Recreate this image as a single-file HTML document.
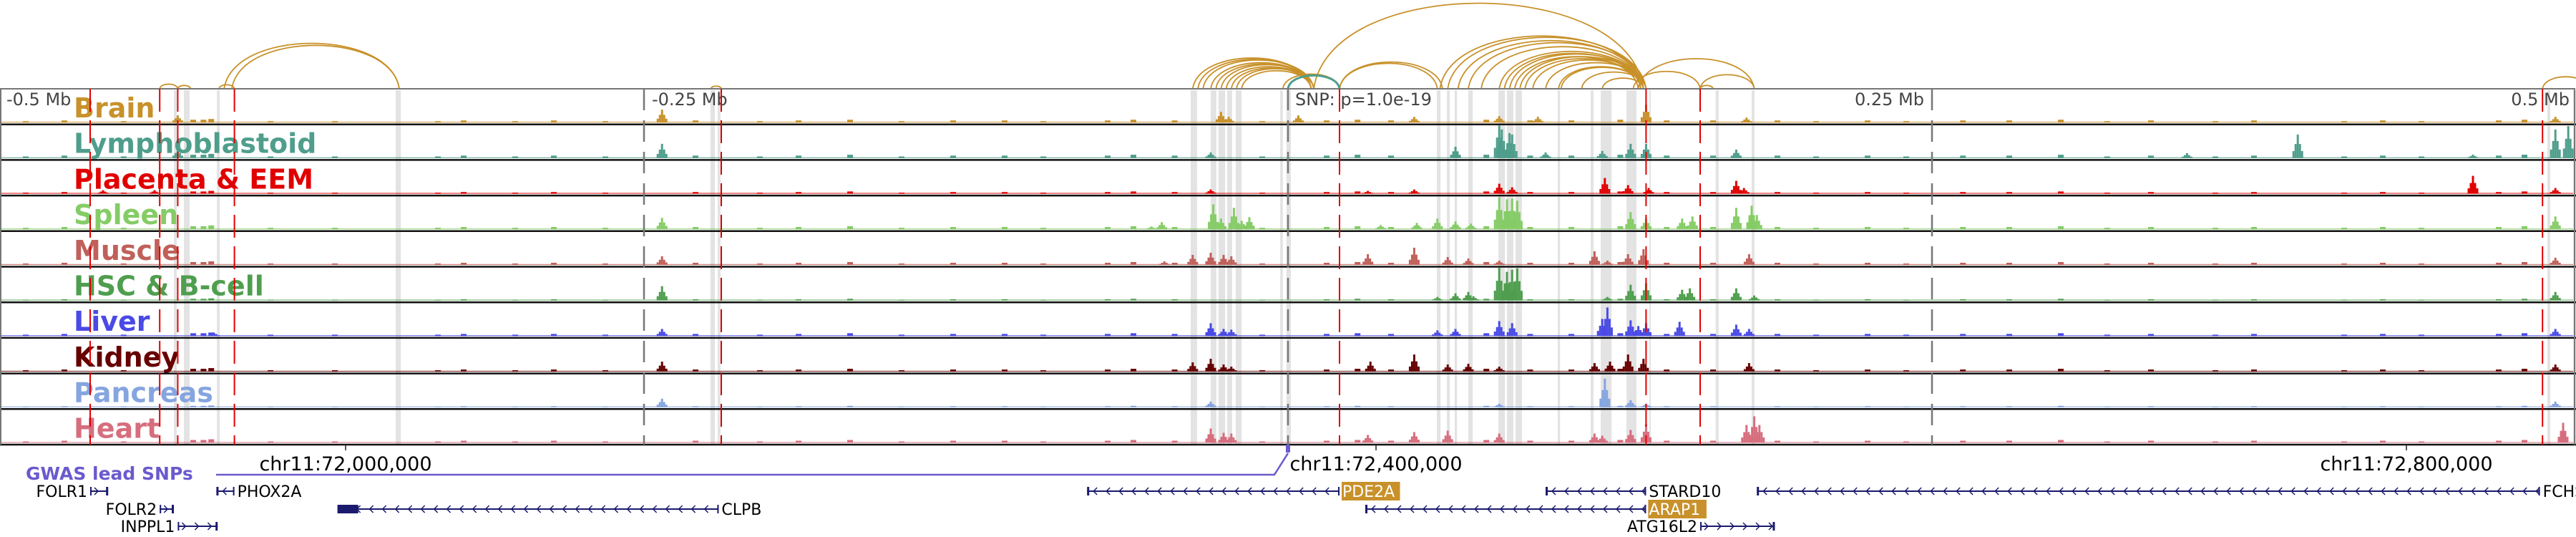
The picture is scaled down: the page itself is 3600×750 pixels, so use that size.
<!DOCTYPE html>
<html><head><meta charset="utf-8">
<style>
html,body{margin:0;padding:0;background:#fff;}
svg{display:block;font-family:"DejaVu Sans","Liberation Sans",sans-serif;}
</style></head>
<body>
<svg id="chart" width="3600" height="750" viewBox="0 0 3600 750" xmlns="http://www.w3.org/2000/svg"></svg>
<script>
// ---- data (positions in kb relative to lead SNP) ----
const trackNames = ["Brain","Lymphoblastoid","Placenta & EEM","Spleen","Muscle","HSC & B-cell","Liver","Kidney","Pancreas","Heart"];
const trackColors = ["#c8912a","#4f9e8c","#e00000","#85cc66","#c0605a","#4f9e4f","#4a4ae6","#660000","#85a5e0","#d66e7e"];
const trackLowScale = [1,1.2,0.8,1.1,1,0.6,1,1,0.5,1];
const peaksBrain = [[-431,10],[-243,18],[-26,15],[-23,8],[4,10],[49,8],[82,9],[97,8],[139,25],[178,7],[492,8]];
const peaksLymph = [[-431,12],[-243,20],[-30,8],[65,16],[82,48],[83,40],[86,35],[87,33],[100,8],[122,10],[133,20],[139,20],[174,12],[349,7],[392,33],[460,5],[492,40],[497,45]];
const peaksPlacenta = [[-460,5],[-440,5],[-30,6],[31,4],[49,6],[82,14],[87,9],[123,22],[132,12],[140,8],[174,18],[177,8],[460,25],[492,8]];
const peaksSpleen = [[-243,16],[-53,4],[-49,10],[-29,35],[-26,15],[-21,30],[-18,12],[-15,17],[36,6],[50,9],[58,15],[65,11],[71,8],[82,45],[85,42],[87,43],[89,40],[133,24],[139,15],[153,15],[157,18],[174,30],[180,33],[182,20],[492,18]];
const peaksMuscle = [[-243,12],[-48,5],[-37,14],[-30,17],[-25,14],[-22,12],[31,15],[49,24],[62,11],[70,9],[82,6],[119,19],[124,6],[132,15],[138,22],[179,15],[492,10]];
const peaksHSC = [[-243,20],[58,5],[65,10],[70,12],[72,6],[82,46],[85,40],[87,43],[89,45],[124,5],[133,22],[139,24],[153,15],[156,17],[174,17],[181,7],[492,12]];
const peaksLiver = [[-417,5],[-243,10],[-30,18],[-25,10],[-22,9],[58,8],[65,10],[82,21],[87,18],[124,40],[122,24],[133,22],[136,14],[139,18],[152,20],[174,16],[179,10],[492,10]];
const peaksKidney = [[-243,14],[-37,13],[-30,18],[-25,10],[-22,7],[32,14],[49,24],[62,10],[70,11],[82,7],[119,12],[125,14],[132,24],[138,18],[179,12],[492,10]];
const peaksPancreas = [[-243,12],[-30,8],[82,5],[123,40],[133,10],[139,5],[492,8]];
const peaksHeart = [[-30,20],[-25,14],[-22,13],[31,11],[49,15],[62,17],[82,13],[119,13],[122,10],[133,18],[139,26],[181,37],[178,25],[183,25],[495,28]];
const trackPeaks = [peaksBrain,peaksLymph,peaksPlacenta,peaksSpleen,peaksMuscle,peaksHSC,peaksLiver,peaksKidney,peaksPancreas,peaksHeart];
// shared low-level background activity [kb, height]
const lowPeaks = [[-490,2],[-475,3],[-452,2],[-425,4],[-421,4],[-418,5],[-395,2],[-370,2],[-330,2],[-320,3],[-300,2],[-285,3],[-265,2],[-230,3],[-205,2],[-190,3],[-170,4],[-150,2],[-130,3],[-110,3],[-95,2],[-70,3],[-60,4],[-44,3],[-10,2],[15,3],[27,4],[40,3],[77,4],[94,3],[110,3],[129,4],[147,3],[165,3],[190,3],[205,2],[225,3],[240,2],[262,3],[280,3],[300,4],[318,2],[335,3],[360,2],[375,3],[410,2],[425,3],[440,2],[470,3],[480,4]];
const grayBands = [[-432.5,-431.4],[-428.6,-426.4],[-415.8,-414.7],[-346.4,-344.4],[-224.2,-222.5],[-221.4,-220.3],[-37.8,-35.3],[-30,-27.8],[-27,-24.4],[-23.6,-21.7],[-20.3,-18],[-3,-2],[-0.6,1.1],[57.8,59.2],[61.7,62.8],[64.7,65.6],[70,71.7],[81.7,84.2],[85,87.5],[88.3,90.8],[104.7,105.6],[117.5,118.6],[121.4,125.6],[131.4,135.3],[140.3,140.8],[166,167.2],[180,181.1],[488.9,490],[498.9,500]];
const redLines = [-465,-438,-431,-409,-220,20,139,160,487];
const posLines = [-250,0,250];
const arcsGold = [[-438,-431],[-431,-426],[-415,-409],[-410,-345],[-413,-345],[-224,-220],
 [-37,9],[-35,9],[-33,10],[-30,9],[-28,9],[-26,10],[-24,9],[-22,9],[-20,10],[-18,9],[-2,20],
 [20,58],[20,60],[10,138],[59,138],[62,139],[66,138],[70,139],[75,138],
 [82,138],[84,137],[86,138],[88,136],[90,138],[92,137],[95,138],[100,139],[105,138],[106,138],[114,139],[122,138],
 [134,160],[136,181],[160,181],[160,165],[487,505]];
const arcsTeal = [[0,20]];
const axisTicksBp = [72000000,72400000,72800000];
const axisTickLabels = ["chr11:72,000,000","chr11:72,400,000","chr11:72,800,000"];
const posLabels = ["-0.5 Mb","-0.25 Mb","SNP: p=1.0e-19","0.25 Mb","0.5 Mb"];
// genes: name, startKb, endKb, row, strand, highlighted
const genes = [["FOLR1",-465,-458,0,"+",false],["FOLR2",-438,-432.5,1,"+",false],["INPPL1",-431,-415.5,2,"+",false],
 ["PHOX2A",-416,-409,0,"-",false],["CLPB",-369,-221,1,"-",false],["PDE2A",-78,20,0,"-",true],
 ["STARD10",100,139,0,"-",false],["FCHSD2",182,486,0,"-",false],["ARAP1",30,139,1,"-",true],["ATG16L2",160,189,2,"+",false]];
const snpBp = 72365833;

// ---- scales ----
const pxPerKb = 3.6, snpX = 1800;
const xKb = kb => snpX + kb*pxPerKb;
const xBp = bp => snpX + (bp - snpBp)/1000*pxPerKb;
const T0 = 124, TH = 49.7, TB = T0 + 10*TH;
const NS = "http://www.w3.org/2000/svg";
const svg = document.getElementById("chart");
function mk(tag, attrs, parent){ const e=document.createElementNS(NS,tag); for(const k in attrs) e.setAttribute(k,attrs[k]); (parent||svg).appendChild(e); return e; }

// gray bands
const gBands = mk("g",{});


grayBands.forEach(b=>{ const r=mk("rect",{x:xKb(b[0]),y:T0+2,width:Math.max(2,xKb(b[1])-xKb(b[0])),height:TB-T0-2,fill:"#e3e3e3"},gBands);
   });

// arcs
const gArcs = mk("g",{fill:"none"});


function arc(a,color,w){ const x1=xKb(a[0]), x2=xKb(a[1]); const h=(x2-x1)*0.26;
 const p=mk("path",{d:`M${x1},${T0} C${x1+(x2-x1)*0.05},${T0-h*1.33} ${x2-(x2-x1)*0.05},${T0-h*1.33} ${x2},${T0}`,stroke:color,"stroke-width":w},gArcs);
   }
arcsGold.forEach(a=>arc(a,"#c8912a",1.8));
arcsTeal.forEach(a=>arc(a,"#4f9e8c",3));

// tracks
trackNames.forEach((name,i)=>{
  const top = T0 + i*TH, base = top + TH - 2.5, col = trackColors[i];
  const g = mk("g",{});
  
  
  const bl = mk("rect",{x:2,y:base-1.2,width:3594,height:1.2,fill:col,opacity:0.8},g);
   
  lowPeaks.forEach(lp=>{ const h=lp[1]*trackLowScale[i]; const r=mk("rect",{x:xKb(lp[0])-4,y:base-h,width:8,height:h,fill:col},g);
      });
  const shape=[0.3,0.6,1,0.6,0.3];
  trackPeaks[i].forEach(pk=>{
    shape.forEach((f,j)=>{ const h=Math.min(TH-4,pk[1]*f); const r=mk("rect",{x:xKb(pk[0])+(j-2)*3-1.5,y:base-h,width:3,height:h,fill:col},g);
        });
  });
  const t = mk("text",{x:103,y:top+40,"font-size":38,"font-weight":"bold",fill:col},g);
  t.textContent = name;
   
  const ln = mk("line",{x1:0,x2:3600,y1:top+TH,y2:top+TH,stroke:"#111","stroke-width":2.5},g);
   
});
// frame
const fr = mk("path",{d:`M1,${TB} V${T0} H3598 V${TB}`,fill:"none",stroke:"#777","stroke-width":2});
 

// position lines & labels
posLines.forEach(p=>{ const l=mk("line",{x1:xKb(p),x2:xKb(p),y1:T0,y2:TB,stroke:"#777","stroke-width":2.5,"stroke-dasharray":"30 14"});
   });
const plx = [[9,"start"],[911,"start"],[1810,"start"],[2689,"end"],[3591,"end"]];
posLabels.forEach((s,i)=>{ const t=mk("text",{x:plx[i][0],y:147,"font-size":24,fill:"#444","text-anchor":plx[i][1]}); t.textContent=s;
   });

// red dashed lines
redLines.forEach(p=>{ const l=mk("line",{x1:xKb(p),x2:xKb(p),y1:T0,y2:TB,stroke:"#e00000","stroke-width":2,"stroke-dasharray":"32 12"});
   });

// genomic axis
axisTicksBp.forEach((bp,i)=>{ const x=xBp(bp);
 const l=mk("line",{x1:x,x2:x,y1:TB,y2:TB+8,stroke:"#222","stroke-width":1.5});  
 const t=mk("text",{x:x,y:657,"font-size":27,fill:"#000","text-anchor":"middle"}); t.textContent=axisTickLabels[i];
   });

// GWAS lead SNP track
const gl = mk("text",{x:36,y:670,"font-size":25,"font-weight":"bold",fill:"#6a5acd"}); gl.textContent="GWAS lead SNPs";
 
const gp = mk("path",{d:`M302,663 H${xKb(0)-19} L${xKb(0)},633`,fill:"none",stroke:"#6a5acd","stroke-width":2.5});
 
const gm = mk("rect",{x:xKb(0)-3,y:621,width:6,height:11,fill:"#6a5acd"});
 

// genes
const rowY=[686,711,735];
genes.forEach(gn=>{
  const [name,s,e,row,strand,hl]=gn; const x1=xKb(s), x2=xKb(e), y=rowY[row];
  const g=mk("g",{});
  
  
  mk("line",{x1:x1,x2:x2,y1:y,y2:y,stroke:"#1a1a6e","stroke-width":2},g);
  for(let x=x1+10;x<x2-4;x+=18){
    const d = strand==="-" ? `M${x+4},${y-5} L${x-1},${y} L${x+4},${y+5}` : `M${x-4},${y-5} L${x+1},${y} L${x-4},${y+5}`;
    mk("path",{d:d,fill:"none",stroke:"#1a1a6e","stroke-width":1.5},g);
  }
  if(name==="CLPB") mk("rect",{x:x1,y:y-6,width:29,height:12,fill:"#1a1a6e"},g);
  else mk("rect",{x:strand==="-"?x1:x2-3,y:y-6,width:3,height:12,fill:"#1a1a6e"},g);
  mk("rect",{x:strand==="-"?x2-2:x1,y:y-6,width:2,height:12,fill:"#1a1a6e"},g);
  const left = strand==="+";
  const tx = left ? x1-4 : x2+4;
  if(hl){ const w=name.length*15.5+4; mk("rect",{x:tx-1,y:y-13,width:w,height:26,fill:"#c8912a"},g); }
  const t=mk("text",{x:tx,y:y+8,"font-size":22,fill:hl?"#fff":"#000","text-anchor":left?"end":"start"},g);
  t.textContent=name;
   
});
</script>
</body></html>
